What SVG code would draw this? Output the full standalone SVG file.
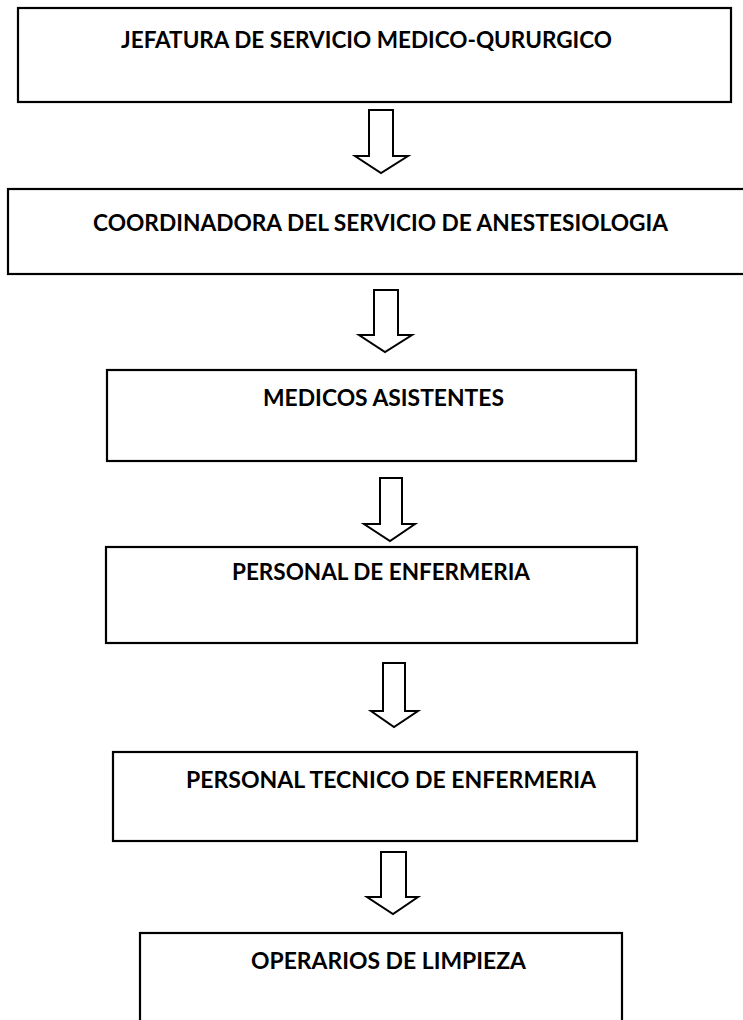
<svg xmlns="http://www.w3.org/2000/svg" width="743" height="1020" viewBox="0 0 743 1020">
<style>
.box{fill:#fff;stroke:#000;stroke-width:2.2}
.arr{fill:#fff;stroke:#000;stroke-width:2;stroke-linejoin:miter}
.t{font-family:Lato,"Open Sans","Liberation Sans",sans-serif;font-weight:bold;font-size:22px;fill:#000}
</style>
<rect width="743" height="1020" fill="#fff"/>
<g id="connectors">
<path class="arr" d="M369,110 H393 V156 H408 L381,173 L355,156 H369 Z"/>
<path class="arr" d="M374,290 H398 V335 H412 L385,352 L359,335 H374 Z"/>
<path class="arr" d="M380,478 H402 V524 H415 L390,541 L364,524 H380 Z"/>
<path class="arr" d="M383,663 H405 V711 H418 L394,727 L371,711 H383 Z"/>
<path class="arr" d="M381,852 H406 V897 H418 L393,914 L367,897 H381 Z"/>
</g>
<g id="n1">
<rect class="box" x="18" y="8" width="713" height="94"/>
<text class="t" x="121" y="48" textLength="491" lengthAdjust="spacingAndGlyphs">JEFATURA DE SERVICIO MEDICO-QURURGICO</text>
</g>
<g id="n2">
<rect class="box" x="8" y="189" width="745" height="85"/>
<text class="t" x="93" y="231" textLength="575" lengthAdjust="spacingAndGlyphs">COORDINADORA DEL SERVICIO DE ANESTESIOLOGIA</text>
</g>
<g id="n3">
<rect class="box" x="107" y="370" width="529" height="91"/>
<text class="t" x="263" y="406" textLength="241" lengthAdjust="spacingAndGlyphs">MEDICOS ASISTENTES</text>
</g>
<g id="n4">
<rect class="box" x="106" y="547" width="531" height="96"/>
<text class="t" x="232" y="580" textLength="298" lengthAdjust="spacingAndGlyphs">PERSONAL DE ENFERMERIA</text>
</g>
<g id="n5">
<rect class="box" x="113" y="752" width="524" height="89"/>
<text class="t" x="186" y="788" textLength="410" lengthAdjust="spacingAndGlyphs">PERSONAL TECNICO DE ENFERMERIA</text>
</g>
<g id="n6">
<rect class="box" x="140" y="933" width="482" height="100"/>
<text class="t" x="251" y="969" textLength="275" lengthAdjust="spacingAndGlyphs">OPERARIOS DE LIMPIEZA</text>
</g>
</svg>
